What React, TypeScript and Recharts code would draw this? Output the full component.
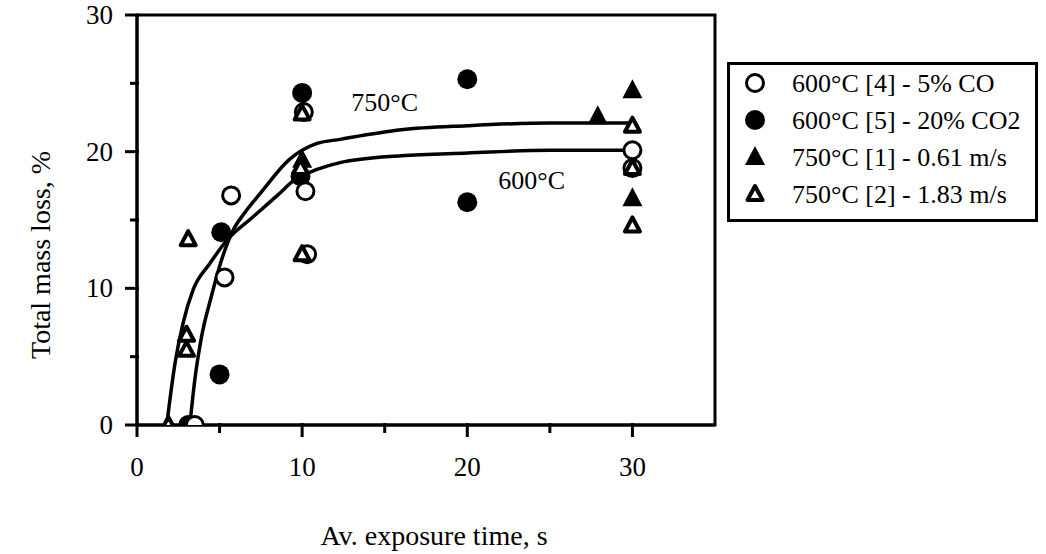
import React from 'react';
import { ComposedChart, Scatter, XAxis, YAxis, ReferenceArea, Legend, Label } from 'recharts';

const FONT = "'Liberation Serif', 'Times New Roman', serif";

const xTicks = [0, 5, 10, 15, 20, 25, 30];
const yTicks = [0, 5, 10, 15, 20, 25, 30];
const xMajor = [0, 10, 20, 30];
const yMajor = [0, 10, 20, 30];

const seriesNames = [
  '600°C [4] - 5% CO',
  '600°C [5] - 20% CO2',
  '750°C [1] - 0.61 m/s',
  '750°C [2] - 1.83 m/s',
];

const open600 = [
  { x: 3.5, y: 0 }, { x: 5.3, y: 10.8 }, { x: 5.7, y: 16.8 }, { x: 10.3, y: 12.5 },
  { x: 10.2, y: 17.1 }, { x: 10.1, y: 22.9 }, { x: 30, y: 20.1 }, { x: 30, y: 18.8 },
];
const filled600 = [
  { x: 3.1, y: 0 }, { x: 5.0, y: 3.7 }, { x: 5.1, y: 14.1 }, { x: 9.9, y: 18.2 },
  { x: 10, y: 24.3 }, { x: 20, y: 16.3 }, { x: 20, y: 25.3 },
];
const filled750 = [
  { x: 10, y: 19.4 }, { x: 27.9, y: 22.6 }, { x: 30, y: 24.5 }, { x: 30, y: 16.6 },
];
const open750 = [
  { x: 1.9, y: 0 }, { x: 3.0, y: 5.5 }, { x: 3.0, y: 6.6 }, { x: 3.1, y: 13.6 },
  { x: 10, y: 12.5 }, { x: 9.9, y: 18.8 }, { x: 10, y: 22.8 },
  { x: 30, y: 21.9 }, { x: 30, y: 18.8 }, { x: 30, y: 14.6 },
];

const curveA = [
  { x: 1.8, y: 0 }, { x: 2.3, y: 4.5 }, { x: 2.8, y: 7.5 }, { x: 3.4, y: 9.9 },
  { x: 4.4, y: 11.8 }, { x: 5.5, y: 13.6 }, { x: 7, y: 15.2 }, { x: 8.5, y: 16.8 },
  { x: 9.5, y: 17.9 }, { x: 10.9, y: 18.7 }, { x: 12.3, y: 19.2 }, { x: 16, y: 19.7 },
  { x: 20, y: 19.9 }, { x: 25, y: 20.1 }, { x: 30, y: 20.1 },
];
const curveB = [
  { x: 3.2, y: 0 }, { x: 3.5, y: 3.3 }, { x: 3.9, y: 6.4 }, { x: 4.5, y: 9.4 },
  { x: 5.1, y: 12 }, { x: 5.8, y: 14.2 }, { x: 6.5, y: 15.5 }, { x: 7.5, y: 17 },
  { x: 9.2, y: 19.4 }, { x: 10.9, y: 20.6 }, { x: 12.3, y: 20.9 }, { x: 16, y: 21.6 },
  { x: 20, y: 21.9 }, { x: 25, y: 22.1 }, { x: 30, y: 22.1 },
];

const curveLabels = [
  { x: 15, y: 23.6, text: '750°C' },
  { x: 23.9, y: 17.9, text: '600°C' },
];

const OpenCircle = ({ cx, cy }: any) => (
  <circle cx={cx} cy={cy} r={8.5} fill="#fff" stroke="#000" strokeWidth={3} />
);
const FilledCircle = ({ cx, cy }: any) => (
  <circle cx={cx} cy={cy} r={10} fill="#000" stroke="none" />
);
const FilledTri = ({ cx, cy }: any) => (
  <path d={`M${cx},${cy - 11} L${cx + 10},${cy + 8} L${cx - 10},${cy + 8} Z`} fill="#000" />
);
const OpenTri = ({ cx, cy }: any) => (
  <path
    d={`M${cx},${cy - 8} L${cx + 7.5},${cy + 6} L${cx - 7.5},${cy + 6} Z`}
    fill="#fff" stroke="#000" strokeWidth={4} strokeLinejoin="round"
  />
);
const markerShapes = [OpenCircle, FilledCircle, FilledTri, OpenTri];

const NoShape = () => <g />;
const TextShape = ({ cx, cy, payload }: any) => (
  <text x={cx} y={cy} textAnchor="middle" dominantBaseline="central" fontSize={26} fontFamily={FONT} fill="#000">
    {payload.text}
  </text>
);

const XTick = ({ x, y, payload }: any) => {
  const v = payload.value;
  const major = xMajor.includes(v);
  return (
    <g>
      <line x1={x} x2={x} y1={y - 2} y2={y + (major ? 12 : 8)} stroke="#000" strokeWidth={3} />
      {major && (
        <text x={x} y={y + 51} textAnchor="middle" fontSize={27} fontFamily={FONT} fill="#000">{v}</text>
      )}
    </g>
  );
};

const YTick = ({ x, y, payload }: any) => {
  const v = payload.value;
  const major = yMajor.includes(v);
  return (
    <g>
      <line x1={x + 2} x2={x - (major ? 12 : 7)} y1={y} y2={y} stroke="#000" strokeWidth={3} />
      {major && (
        <text x={x - 24} y={y + 9} textAnchor="end" fontSize={27} fontFamily={FONT} fill="#000">{v}</text>
      )}
    </g>
  );
};

const renderLegend = () => (
  <div style={{ width: 311, height: 160, border: '3px solid #000', boxSizing: 'border-box', background: '#fff' }}>
    <svg width={305} height={154} style={{ display: 'block' }}>
      {seriesNames.map((name, i) => {
        const Shape = markerShapes[i];
        const cy = 18 + i * 37;
        return (
          <g key={name}>
            <Shape cx={25} cy={cy} />
            <text x={62} y={cy + 9} fontSize={26} fontFamily={FONT} fill="#000">{name}</text>
          </g>
        );
      })}
    </svg>
  </div>
);

export default function App() {
  return (
    <div style={{ position: 'absolute', left: 0, top: 0, width: 1046, height: 554, background: '#fff' }}>
      <ComposedChart width={1046} height={554} margin={{ top: 15, right: 331, bottom: 89, left: 77 }}>
        <XAxis
          dataKey="x" type="number" domain={[0, 35]} ticks={xTicks} interval={0}
          tickSize={0} tickMargin={0} tick={<XTick />} height={40}
          axisLine={{ stroke: '#000', strokeWidth: 3 }} allowDataOverflow
        >
          <Label
            content={({ viewBox }: any) => (
              <text x={viewBox.x + viewBox.width / 2 + 8} y={545} textAnchor="middle" fontSize={28} fontFamily={FONT} fill="#000">
                Av. exposure time, s
              </text>
            )}
          />
        </XAxis>
        <YAxis
          dataKey="y" type="number" domain={[0, 30]} ticks={yTicks} interval={0}
          tickSize={0} tickMargin={0} tick={<YTick />} width={60}
          axisLine={{ stroke: '#000', strokeWidth: 3 }} allowDataOverflow
        >
          <Label
            content={({ viewBox }: any) => {
              const cx = 40;
              const cy = viewBox.y + viewBox.height / 2 + 35;
              return (
                <text x={cx} y={cy} transform={`rotate(-90 ${cx} ${cy})`} textAnchor="middle" dominantBaseline="central" fontSize={28} fontFamily={FONT} fill="#000">
                  Total mass loss, %
                </text>
              );
            }}
          />
        </YAxis>
        <ReferenceArea x1={0} x2={35} y1={0} y2={30} fill="none" fillOpacity={0} stroke="#000" strokeWidth={3} />
        <Scatter name="curveA" data={curveA} dataKey="y" shape={NoShape} line={{ stroke: '#000', strokeWidth: 3.5, fill: 'none' }} lineType="joint" lineJointType="monotoneX" legendType="none" isAnimationActive={false} />
        <Scatter name="curveB" data={curveB} dataKey="y" shape={NoShape} line={{ stroke: '#000', strokeWidth: 3.5, fill: 'none' }} lineType="joint" lineJointType="monotoneX" legendType="none" isAnimationActive={false} />
        <Scatter name="labels" data={curveLabels} dataKey="y" shape={TextShape} legendType="none" isAnimationActive={false} />
        <Scatter name={seriesNames[1]} data={filled600} dataKey="y" shape={FilledCircle} isAnimationActive={false} />
        <Scatter name={seriesNames[2]} data={filled750} dataKey="y" shape={FilledTri} isAnimationActive={false} />
        <Scatter name={seriesNames[0]} data={open600} dataKey="y" shape={OpenCircle} isAnimationActive={false} />
        <Scatter name={seriesNames[3]} data={open750} dataKey="y" shape={OpenTri} isAnimationActive={false} />
        <Legend
          layout="vertical" align="center" verticalAlign="middle" content={renderLegend}
          wrapperStyle={{ position: 'absolute', left: 727, top: 62, width: 311, height: 160 }}
        />
      </ComposedChart>
    </div>
  );
}
